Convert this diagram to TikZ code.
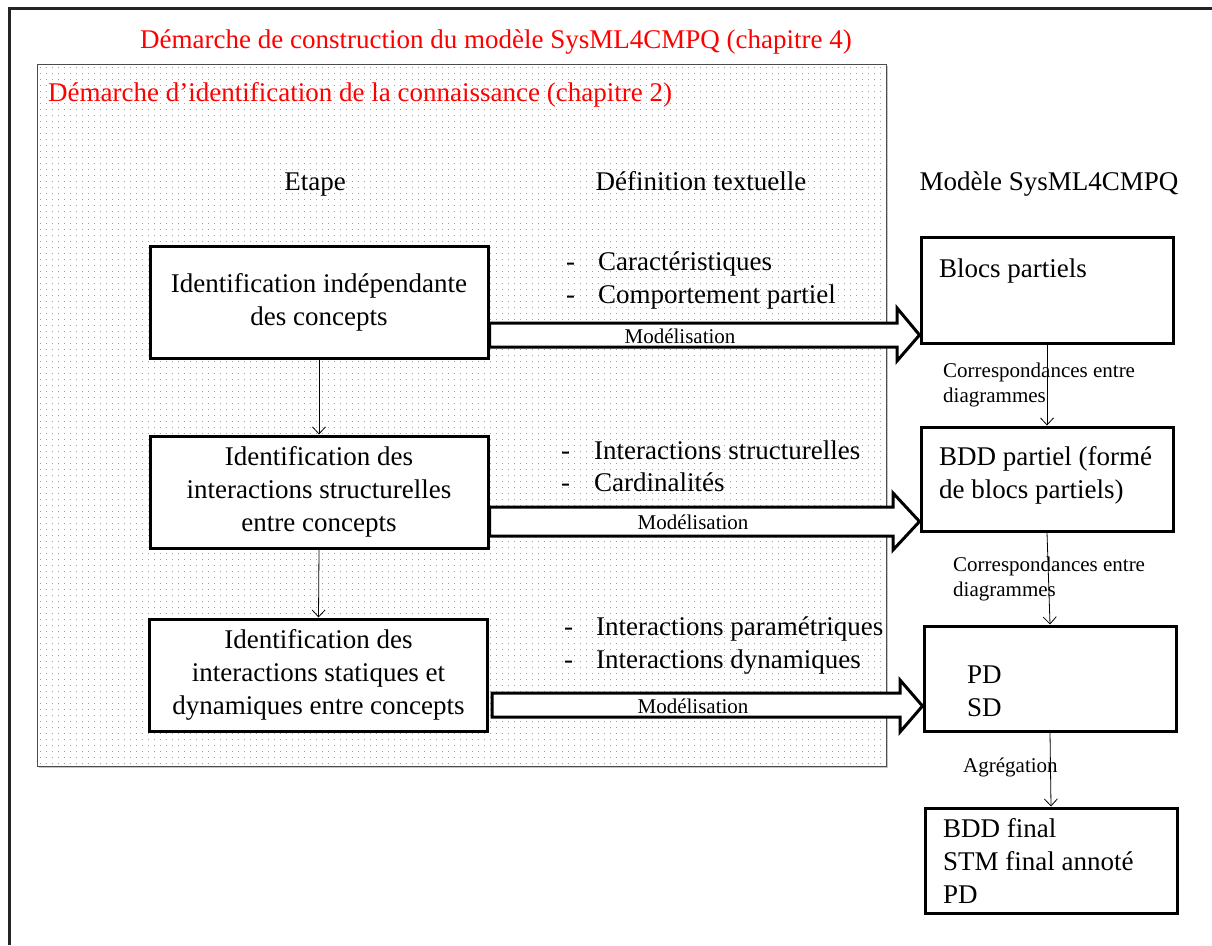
\documentclass[tikz,border=0pt]{standalone}
\usepackage{fontspec}
\setmainfont{Liberation Serif}
\usetikzlibrary{arrows.meta,shadows}

\definecolor{dotblue}{RGB}{120,165,235}
\definecolor{framegray}{RGB}{90,90,90}

\tikzset{
  big/.style={font=\fontsize{27}{33}\selectfont, inner sep=0pt},
  small/.style={font=\fontsize{21}{25}\selectfont, inner sep=0pt},
  redtitle/.style={big, text=red},
  stepbox/.style={draw, line width=3pt, fill=white, big, align=center,
    minimum width=338pt, minimum height=112pt},
  modelbox/.style={draw, line width=3pt, fill=white,
    minimum width=252pt, minimum height=105pt},
  link/.style={-{Straight Barb[length=7pt,width=13pt]}, line width=0.8pt},
  modarrow/.style={draw, line width=3pt, fill=white, line join=miter},
  deftext/.style={big, anchor=base west},
  dotrow/.style={draw=dotblue, line width=1pt, dash pattern=on 1pt off 5pt},
}

\begin{document}
\begin{tikzpicture}[x=1pt,y=-1pt]
\useasboundingbox (0,0) rectangle (1212,945);

% outer frame (continues past the page edge)
\draw[line width=3pt, framegray!40!black] (9,945) -- (9,8) -- (1212,8);

% dotted area of the identification approach
\path[drop shadow={shadow xshift=2pt, shadow yshift=-2pt, fill=black!45}, fill=white]
  (37,64) rectangle (886,766);
\foreach \y in {67.5,73.5,...,763.5} {
  \path[dotrow] (40,\y) -- (884,\y);
}
\draw[line width=0.9pt, black!70] (37,64) rectangle (886,766);

% titles
\node[redtitle, anchor=base west] (t1) at (140,48)
  {Démarche de construction du modèle SysML4CMPQ (chapitre 4)};
\node[redtitle, anchor=base west] (t2) at (48,101)
  {Démarche d’identification de la connaissance (chapitre 2)};

% column headings
\node[big, anchor=base] (h1) at (315,190) {Etape};
\node[big, anchor=base] (h2) at (701,190) {Définition textuelle};
\node[big, anchor=base] (h3) at (1049,190) {Modèle SysML4CMPQ};

% steps
\node[stepbox] (s1) at (319,302) {Identification indépendante\\des concepts};
\node[stepbox] (s2) at (319,492) {Identification des\\interactions structurelles\\entre concepts};
\node[stepbox] (s3) at (318.5,675) {Identification des\\interactions statiques et\\dynamiques entre concepts};

\draw[link] (s1.south) -- (s2.north);
\draw[link] (s2.south) -- (s3.north);

% textual definitions
\node[deftext] (d1a) at (566,270) {-};
\node[deftext] (d1b) at (598,270) {Caractéristiques};
\node[deftext] (d1c) at (566,303) {-};
\node[deftext] (d1d) at (598,303) {Comportement partiel};

\node[deftext] (d2a) at (561,459) {-};
\node[deftext] (d2b) at (594,459) {Interactions structurelles};
\node[deftext] (d2c) at (561,491) {-};
\node[deftext] (d2d) at (594,491) {Cardinalités};

\node[deftext] (d3a) at (564,635) {-};
\node[deftext] (d3b) at (596,635) {Interactions paramétriques};
\node[deftext] (d3c) at (564,668) {-};
\node[deftext] (d3d) at (596,668) {Interactions dynamiques};

% SysML4CMPQ model elements
\node[modelbox, minimum height=106pt] (m1) at (1047,290) {};
\node[big, anchor=west] (m1t) at (939,271) {Blocs partiels};

\node[modelbox, minimum height=104pt] (m2) at (1047,479) {};
\node[big, anchor=west, align=left] (m2t) at (939,475) {BDD partiel (formé\\de blocs partiels)};

\node[modelbox] (m3) at (1050,678.5) {};
\node[big, anchor=west, align=left] (m3t) at (967,691) {PD\\SD};

\node[modelbox] (m4) at (1051,860.5) {};
\node[big, anchor=west, align=left] (m4t) at (943,861) {BDD final\\STM final annoté\\PD};

% links between model elements
\draw[link] (m1.south) -- (m2.north);
\draw[link] (m2.south) -- (m3.north);
\draw[link] (m3.south) -- (m4.north);
\node[small, anchor=west, align=left] (c1) at (943,385) {Correspondances entre\\diagrammes};
\node[small, anchor=west, align=left] (c2) at (953,579) {Correspondances entre\\diagrammes};
\node[small, anchor=west] (c3) at (963,767) {Agrégation};

% modelling arrows
\draw[modarrow] (s1.east |- 0,323) -- (897,323) -- (897,308) -- (m1.west |- 0,335)
  -- (897,361) -- (897,347) -- (s1.east |- 0,347) -- cycle;
\node[small] (l1) at (680,336) {Modélisation};

\draw[modarrow] (s2.east |- 0,507) -- (893,507) -- (893,493) -- (m2.west |- 0,521.5)
  -- (893,550) -- (893,536) -- (s2.east |- 0,536) -- cycle;
\node[small] (l2) at (693,522) {Modélisation};

\draw[modarrow] (492,693) -- (900,693) -- (900,680) -- (m3.west |- 0,706)
  -- (900,732) -- (900,717) -- (492,717) -- cycle;
\node[small] (l3) at (693,706) {Modélisation};
\end{tikzpicture}
\end{document}
